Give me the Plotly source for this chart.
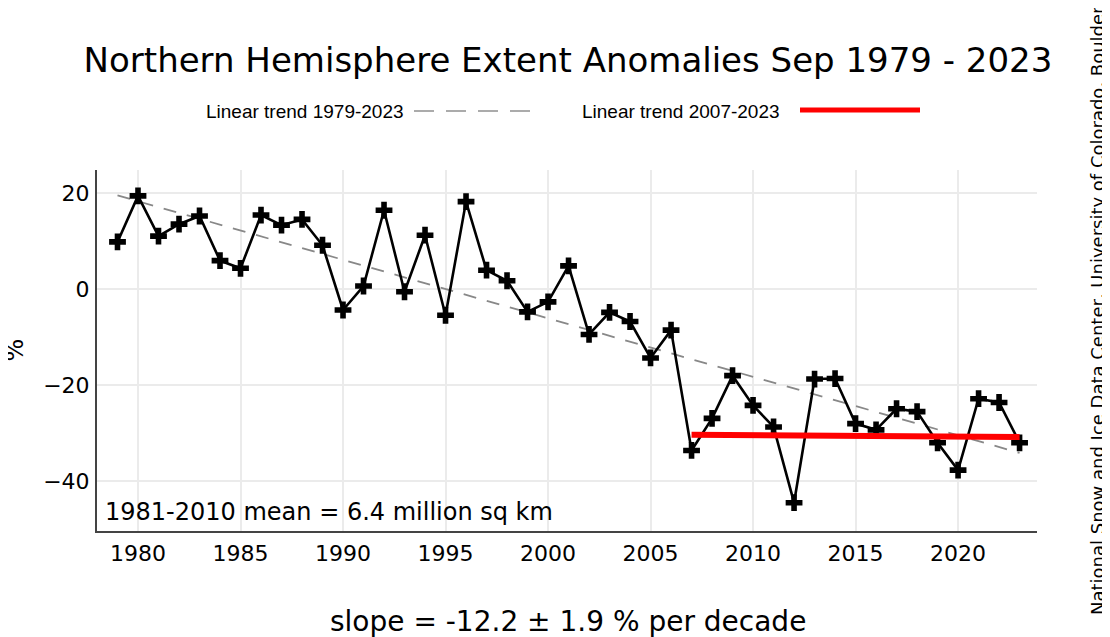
import plotly.graph_objects as go

# ── Data ──────────────────────────────────────────────────
years = list(range(1979, 2024))
anomaly_pct = [
    9.9, 19.5, 11.1, 13.6, 15.3, 6.0, 4.4, 15.5, 13.4, 14.6,
    9.2, -4.3, 0.7, 16.5, -0.5, 11.3, -5.4, 18.3, 4.0, 1.8,
    -4.7, -2.6, 4.9, -9.4, -4.8, -6.7, -14.3, -8.5, -33.6, -26.9,
    -18.0, -24.2, -28.7, -44.5, -18.7, -18.6, -28.0, -29.3, -24.9, -25.5,
    -32.0, -37.7, -22.8, -23.6, -32.0,
]

trend_all_years = [1979, 2023]
trend_all_vals = [19.6, -34.1]

trend_recent_years = [2007, 2023]
trend_recent_vals = [-30.3, -30.8]

x_ticks = [1980, 1985, 1990, 1995, 2000, 2005, 2010, 2015, 2020]
y_ticks = [-40, -20, 0, 20]

FONT = "DejaVu Sans"

# page body has an 8px margin, so positions below are page px - 8
L, R, T, B = 89, 1029, 162, 523
PW, PH = R - L, B - T


def px_x(x):
    return (x - L) / PW


def px_y(y):
    return (B - y) / PH


fig = go.Figure()

# ── Traces ────────────────────────────────────────────────
fig.add_trace(go.Scatter(
    x=trend_all_years, y=trend_all_vals,
    mode="lines",
    line=dict(color="#888888", width=1.8, dash="13px,11px"),
    showlegend=False, hoverinfo="skip",
))
fig.add_trace(go.Scatter(
    x=years, y=anomaly_pct,
    mode="lines+markers",
    line=dict(color="black", width=2.6),
    marker=dict(symbol="cross", size=14, color="black"),
    showlegend=False,
))
fig.add_trace(go.Scatter(
    x=trend_recent_years, y=trend_recent_vals,
    mode="lines",
    line=dict(color="#ff0000", width=6),
    showlegend=False, hoverinfo="skip",
))

# ── Hand-made legend above the plot ───────────────────────
legend_font = dict(family="Liberation Sans", size=19, color="black")
shapes = [
    dict(type="line", xref="paper", yref="paper",
         x0=px_x(406), x1=px_x(530), y0=px_y(103), y1=px_y(103),
         line=dict(color="#909090", width=1.5, dash="20px,12px")),
    dict(type="line", xref="paper", yref="paper",
         x0=px_x(792), x1=px_x(912), y0=px_y(102), y1=px_y(102),
         line=dict(color="#ff0000", width=5)),
]

annotations = [
    dict(text="Linear trend 1979-2023", xref="paper", yref="paper",
         x=px_x(398), y=px_y(103), xanchor="right", yanchor="middle",
         showarrow=False, font=legend_font),
    dict(text="Linear trend 2007-2023", xref="paper", yref="paper",
         x=px_x(774), y=px_y(103), xanchor="right", yanchor="middle",
         showarrow=False, font=legend_font),
    dict(text="1981-2010 mean = 6.4 million sq km", xref="paper", yref="paper",
         x=px_x(95), y=px_y(504), xanchor="left", yanchor="middle",
         showarrow=False, font=dict(family=FONT, size=24, color="black")),
    dict(text="slope = -12.2 ± 1.9 % per decade", xref="paper", yref="paper",
         x=px_x(560), y=px_y(613), xanchor="center", yanchor="middle",
         showarrow=False, font=dict(family=FONT, size=28, color="black")),
    dict(text="%", xref="paper", yref="paper",
         x=px_x(6), y=0.5, xanchor="center", yanchor="middle",
         textangle=-90, showarrow=False,
         font=dict(family=FONT, size=24, color="black")),
    dict(text="National Snow and Ice Data Center, University of Colorado, Boulder",
         xref="paper", yref="paper",
         x=px_x(1089), y=px_y(303),
         xanchor="center", yanchor="middle",
         textangle=-90, showarrow=False,
         font=dict(family=FONT, size=18, color="black")),
]

# ── Layout ────────────────────────────────────────────────
fig.update_layout(
    width=1110, height=637,
    margin=dict(l=L, r=1110 - R, t=T, b=637 - B),
    paper_bgcolor="white", plot_bgcolor="white",
    font=dict(family=FONT, size=22, color="black"),
    title=dict(
        text="Northern Hemisphere Extent Anomalies Sep 1979 - 2023",
        x=560 / 1110, xanchor="center", y=1 - 52 / 637, yanchor="middle",
        font=dict(family=FONT, size=34, color="black"),
    ),
    shapes=shapes,
    annotations=annotations,
)

fig.update_xaxes(
    range=[1978.0, 2023.85],
    tickvals=x_ticks,
    showgrid=True, gridcolor="#ebebeb", gridwidth=1.5,
    zeroline=False,
    showline=True, linecolor="#444444", linewidth=2,
    ticks="", ticklabelstandoff=2,
    tickfont=dict(family=FONT, size=22, color="black"),
)
fig.update_yaxes(
    range=[-50.4, 24.9],
    tickvals=y_ticks,
    showgrid=True, gridcolor="#ebebeb", gridwidth=1.5,
    zeroline=False,
    showline=True, linecolor="#444444", linewidth=2,
    ticks="", ticklabelstandoff=1,
    tickfont=dict(family=FONT, size=22, color="black"),
)

fig.write_html("out.html")
